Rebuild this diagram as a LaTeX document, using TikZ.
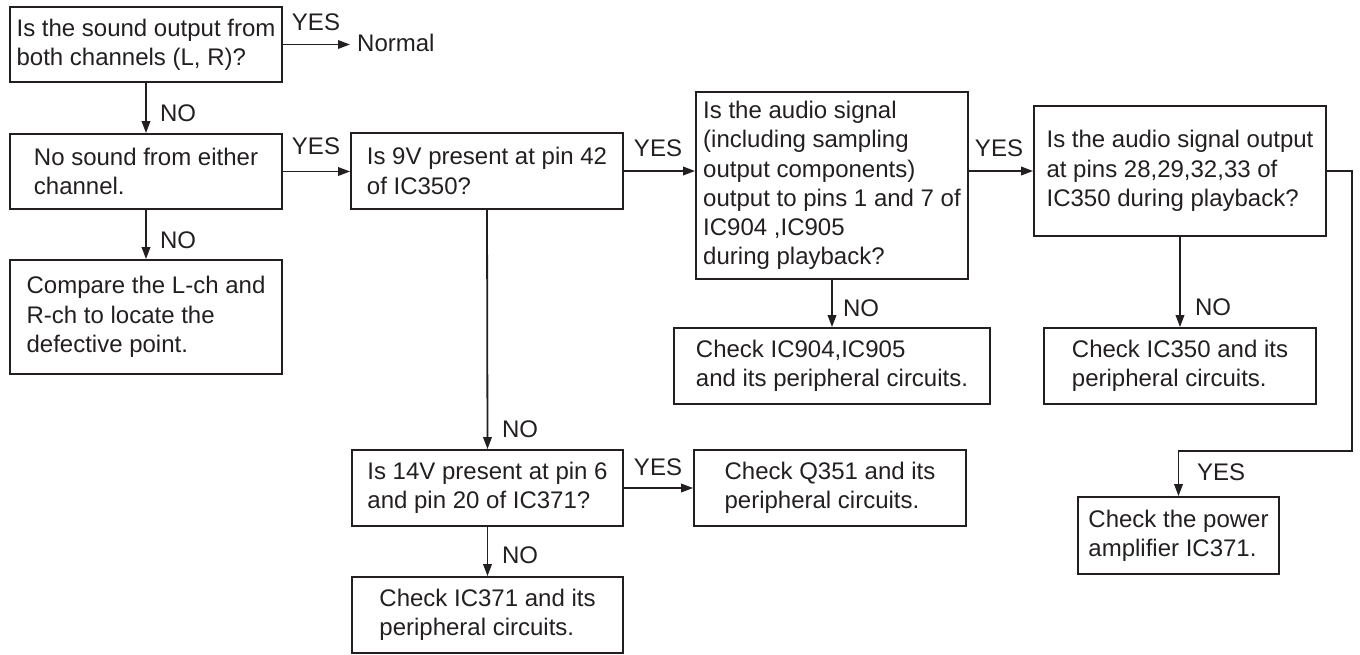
\documentclass[tikz,border=0pt]{standalone}
\usepackage{fontspec}
\setmainfont{Liberation Sans}
\usetikzlibrary{arrows.meta}
\definecolor{ink}{RGB}{35,31,32}
\tikzset{
  box/.style={draw=ink, line width=1.8pt, align=left, inner sep=0pt, text=ink,
    font=\fontsize{24}{29.3}\selectfont},
  lbl/.style={inner sep=0pt, text=ink, font=\fontsize{24}{29.3}\selectfont},
  arr/.style={draw=ink, line width=1.8pt, -{Triangle[length=12pt,width=8.5pt]}},
  ln/.style={draw=ink, line width=1.8pt}
}
\begin{document}
\begin{tikzpicture}[x=1pt,y=-1pt]
\useasboundingbox (0,0) rectangle (1360,654);
% boxes
\node[box, minimum width=272pt, minimum height=75pt] (A) at (146,44.5) {Is the sound output from\\both channels (L, R)?};
\node[box, minimum width=272pt, minimum height=75pt] (B) at (146,171.5) {No sound from either\\channel.};
\node[box, minimum width=272pt, minimum height=114pt] (D) at (146,317) {Compare the L-ch and\\R-ch to locate the\\defective point.};
\node[box, minimum width=272pt, minimum height=76pt] (C) at (487,171) {Is 9V present at pin 42\\of IC350?};
\node[box, minimum width=272pt, minimum height=187pt] (E) at (832,185.5) {Is the audio signal\\(including sampling\\output components)\\output to pins 1 and 7 of\\IC904 ,IC905\\during playback?};
\node[box, minimum width=292pt, minimum height=130pt] (G) at (1180,171) {Is the audio signal output\\at pins 28,29,32,33 of\\IC350 during playback?};
\node[box, minimum width=316pt, minimum height=76pt] (H) at (832,366) {Check IC904,IC905\\and its peripheral circuits.};
\node[box, minimum width=272pt, minimum height=76pt] (I) at (1180,366) {Check IC350 and its\\peripheral circuits.};
\node[box, minimum width=271pt, minimum height=76pt] (F) at (487.5,488) {Is 14V present at pin 6\\and pin 20 of IC371?};
\node[box, minimum width=272pt, minimum height=76pt] (L) at (830,488) {Check Q351 and its\\peripheral circuits.};
\node[box, minimum width=271pt, minimum height=76pt] (K) at (487.5,615) {Check IC371 and its\\peripheral circuits.};
\node[box, minimum width=201pt, minimum height=77pt] (J) at (1178.5,535.5) {Check the power\\amplifier IC371.};
\node[lbl, anchor=west] (N) at (357,43) {Normal};
% labels
\node[lbl] (y1) at (316,22) {YES};
\node[lbl] (n1) at (178,113) {NO};
\node[lbl] (y2) at (316,146) {YES};
\node[lbl] (n2) at (178,240) {NO};
\node[lbl] (y3) at (658,148) {YES};
\node[lbl] (y4) at (999,148) {YES};
\node[lbl] (n3) at (861,308) {NO};
\node[lbl] (n4) at (1213,307) {NO};
\node[lbl] (n5) at (520,429) {NO};
\node[lbl] (n6) at (520,555) {NO};
\node[lbl] (y5) at (658,467) {YES};
\node[lbl] (y6) at (1221,472) {YES};
% connectors
\draw[arr, shorten >=7pt] (A.east) -- (A.east -| N.west);
\draw[arr] (A.south) -- (B.north);
\draw[arr] (B.south) -- (D.north);
\draw[arr] (B.east) -- (B.east -| C.west);
\draw[arr] (C.east) -- (C.east -| E.west);
\draw[arr] (C.south) -- (F.north);
\draw[arr] (G.west -| E.east) -- (G.west);
\draw[arr] (E.south) -- (H.north);
\draw[arr] (G.south) -- (I.north);
\draw[arr] (F.east) -- (L.west);
\draw[arr] (F.south) -- (K.north);
\coordinate (g1) at (1352,171);
\coordinate (g2) at (1352,451);
\draw[arr] (G.east) -- (g1) -- (g2) -- (g2 -| J.north) -- (J.north);
\end{tikzpicture}
\end{document}
